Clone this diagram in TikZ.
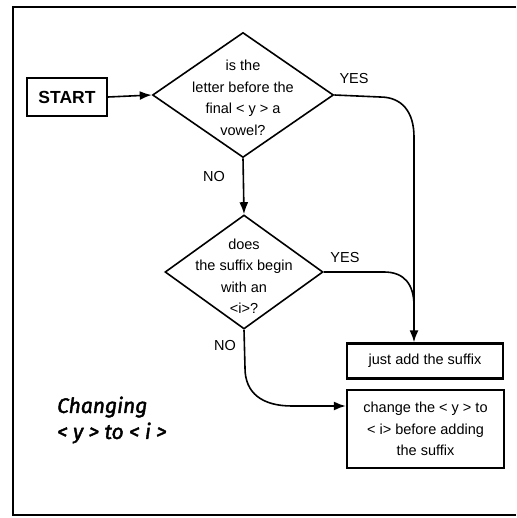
\documentclass[tikz,border=0pt]{standalone}
\usepackage{fontspec}
\setmainfont{Liberation Sans}
\newfontfamily\capfont{Fira Sans}[FakeBold=2]
\usetikzlibrary{shapes.geometric,arrows.meta}

\tikzset{
  txt/.style={font=\fontsize{14.5}{21.5}\selectfont, align=center, inner sep=0pt},
  lbl/.style={font=\fontsize{14.5}{17}\selectfont, inner sep=0pt},
  decision/.style={diamond, draw, line width=1.6pt, inner sep=0pt},
  actbox/.style={rectangle, draw, line width=2.4pt, inner sep=0pt},
  flow/.style={line width=1.6pt},
  arr/.style={flow, -{Latex[length=12pt,width=9pt]}},
}

\begin{document}
\begin{tikzpicture}[x=1pt,y=-1pt]
  \useasboundingbox (0,0) rectangle (516,518);

  % page frame, open on the right
  \draw[line width=2.6pt] (516,7) -- (13,7) -- (13,515) -- (516,515);

  % start box
  \node[actbox, minimum width=80pt, minimum height=38pt,
        font=\fontsize{17.5}{20}\selectfont\bfseries] (start) at (67,97) {START};

  % first decision
  \node[decision, minimum width=181pt, minimum height=125pt] (d1) at (243,95) {};
  \node[txt] (d1t) at (243,98) {is the\\letter before the\\final < y > a\\vowel?};

  % second decision
  \node[decision, minimum width=158pt, minimum height=114pt] (d2) at (244,272) {};
  \node[txt] (d2t) at (244,276) {does\\the suffix begin\\with an\\<i>?};

  % outcome boxes
  \node[actbox, minimum width=156pt, minimum height=35pt] (just) at (425,361)
       {\fontsize{14.5}{17}\selectfont just add the suffix};
  \node[actbox, minimum width=157pt, minimum height=78pt] (change) at (425.5,429) {};
  \node[txt] (changet) at (change) {change the < y > to\\< i> before adding\\the suffix};

  % caption
  \node[anchor=west, align=left, inner sep=0pt,
        font=\capfont\itshape\fontsize{21}{26}\selectfont] (cap) at (57,420)
       {Changing\\< y > to < i >};

  % connectors
  \coordinate (vx) at (414,0);
  \coordinate (n2) at (0,406);
  \draw[arr] (start.east) -- (d1.west);
  \draw[arr] (d1.south) -- (d2.north);
  \draw[arr] (d1.east) -- (380,97) .. controls (402,97) and (414,112) .. (414,137)
             -- (just.north -| vx);
  \draw[flow] (d2.east) -- (384,272) .. controls (404,272) and (414,284) .. (414,306);
  \draw[arr] (d2.south) -- (245,368) .. controls (245,393) and (262,406) .. (292,406)
             -- (change.west |- n2);

  % branch labels
  \node[lbl] (y1) at (354,79) {YES};
  \node[lbl] (no1) at (214,177) {NO};
  \node[lbl] (y2) at (345,258) {YES};
  \node[lbl] (no2) at (225,346) {NO};
\end{tikzpicture}
\end{document}
